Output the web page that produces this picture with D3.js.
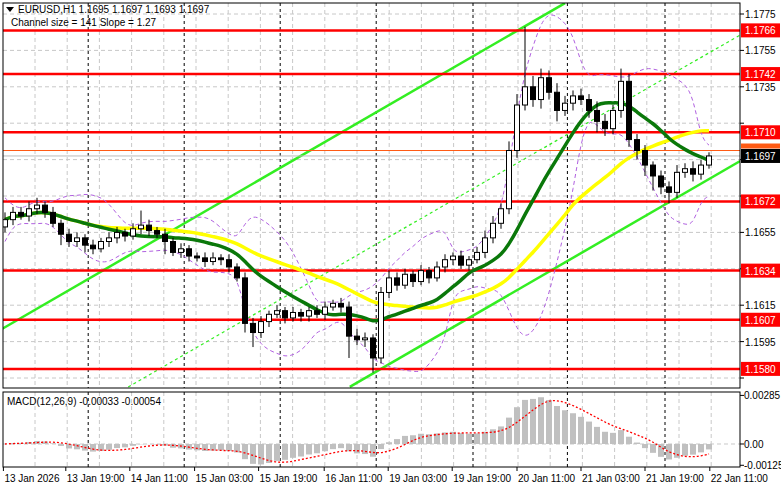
<!DOCTYPE html>
<html>
<head>
<meta charset="utf-8">
<title>EURUSD H1</title>
<script src="https://cdn.jsdelivr.net/npm/d3@7"></script>
<style>
  body { margin:0; background:#fff; }
  text { font-family: "Liberation Sans", Arial, sans-serif; font-size:10px; }
</style>
</head>
<body>
<svg id="chart" width="781" height="489"></svg>
<script>
// closes, one bar per 2 hours
var closes = [1.1662,1.1666,1.1664,1.1668,1.1670,1.1666,1.1660,1.1654,1.1650,1.1652,
  1.1648,1.1646,1.1650,1.1652,1.1655,1.1653,1.1657,1.1659,1.1656,1.1654,
  1.1650,1.1644,1.1646,1.1642,1.1641,1.1639,1.1641,1.1640,1.1636,1.1630,
  1.1605,1.1600,1.1606,1.1610,1.1612,1.1608,1.1611,1.1609,1.1612,1.1610,
  1.1614,1.1616,1.1614,1.1598,1.1596,1.1597,1.1586,1.1622,1.1630,1.1626,
  1.1632,1.1628,1.1634,1.1630,1.1636,1.1640,1.1642,1.1637,1.1640,1.1644,
  1.1652,1.1660,1.1668,1.1700,1.1725,1.1735,1.1728,1.1740,1.1732,1.1722,
  1.1726,1.1730,1.1728,1.1722,1.1716,1.1712,1.1722,1.1738,1.1706,1.1700,
  1.1692,1.1686,1.1680,1.1677,1.1688,1.1690,1.1687,1.1692,1.1697];
var firstOpen = 1.1658;
// wick extents in pips above max(o,c) and below min(o,c)
var upPips = [4,3,3,4,4,2,3,2,3,3, 2,3,2,3,3,2,3,8,3,2, 3,2,3,2,2,3,3,2,3,2,
  3,3,3,2,3,2,3,2,2,3, 3,2,3,3,4,3,2,3,4,3, 3,2,3,2,3,3,2,3,2,3,
  4,4,3,5,6,33,6,5,4,5, 4,3,4,3,5,4,3,7,4,3, 3,2,3,3,4,3,4,3,2];
var dnPips = [3,3,2,3,3,3,2,6,3,3, 4,3,2,3,3,3,2,3,3,2, 7,2,3,3,2,3,2,3,3,2,
  5,8,3,3,2,3,2,3,3,2, 3,2,3,12,3,4,8,3,3,3, 2,3,2,3,2,3,3,2,3,2,
  3,3,3,3,4,3,4,5,4,6, 3,4,3,4,6,4,3,4,4,5, 6,8,4,6,3,3,4,3,2];
var levels = [1.1766, 1.1742, 1.1710, 1.1672, 1.1634, 1.1607, 1.1580];
var priceTicks = [1.1775, 1.1755, 1.1735, 1.1715, 1.1695, 1.1675, 1.1655, 1.1635, 1.1615, 1.1595, 1.1575];
var dateLabels = ["13 Jan 2026","13 Jan 19:00","14 Jan 11:00","15 Jan 03:00","15 Jan 19:00","16 Jan 11:00",
  "19 Jan 03:00","19 Jan 19:00","20 Jan 11:00","21 Jan 03:00","21 Jan 19:00","22 Jan 11:00"];
var dateBars = [-0.2, 7.6, 15.6, 23.7, 31.7, 39.9, 47.9, 55.9, 64.0, 72.0, 80.0, 88.1];
var daySeps = [10.4, 22.4, 34.4, 46.4, 58.5, 70.3, 82.5];
// channel lines as [bar, price] endpoints
var chUpper = [[-0.6, 1.16014], [70.0, 1.17810]];
var chLower = [[43.1, 1.15701], [91.9, 1.16942]];
var chMid = [[15.4, 1.15701], [91.9, 1.17635]];
var lastPrice = 1.1697, orangeLevel = 1.1700;

var svg = d3.select("#chart");
var L = 3, R = 740, T = 3, B = 388, MT = 392, MB = 467;

var x = d3.scaleLinear().domain([0, 1]).range([5, 13]);
var y = d3.scaleLinear().domain([1.1575, 1.1775]).range([378, 14]);

var bars = closes.map(function(c, i) {
  var o = i == 0 ? firstOpen : closes[i-1];
  return {i:i, o:o, c:c, h:Math.max(o,c)+upPips[i]/10000, l:Math.min(o,c)-dnPips[i]/10000};
});

function sma(arr, n) {
  return arr.map(function(v, i) {
    return d3.mean(arr.slice(Math.max(0, i-n+1), i+1));
  });
}
function ema(arr, n) {
  var k = 2/(n+1), out = [], prev = arr[0];
  arr.forEach(function(v){ prev = v*k + prev*(1-k); out.push(prev); });
  return out;
}
var maFast = sma(closes, 12), maSlow = sma(closes, 25);
var bbMid = sma(closes, 10);
var bbDev = closes.map(function(v, i) {
  var s = closes.slice(Math.max(0, i-9), i+1);
  return s.length > 1 ? d3.deviation(s) : 0.0006;
});
var emaSlow = ema(closes, 13);
var macd = ema(closes, 6).map(function(v, i){ return v - emaSlow[i]; });
var signal = sma(macd, 5);

svg.append("rect").attr("x", 0).attr("y", 0).attr("width", 781).attr("height", 489).attr("fill", "#fff");

var clip = svg.append("clipPath").attr("id", "mainclip");
clip.append("rect").attr("x", L).attr("y", T).attr("width", R-L).attr("height", B-T);
var main = svg.append("g").attr("clip-path", "url(#mainclip)");

// grid
var gridX = d3.range(35, R, 32.2);
main.selectAll(".gx").data(gridX).join("line")
  .attr("x1", d => d).attr("x2", d => d).attr("y1", T).attr("y2", B)
  .attr("stroke", "#c8c8c8").attr("stroke-dasharray", "4,3");
main.selectAll(".gy").data(priceTicks).join("line")
  .attr("x1", L).attr("x2", R).attr("y1", d => y(d)).attr("y2", d => y(d))
  .attr("stroke", "#c8c8c8").attr("stroke-dasharray", "4,3");
main.selectAll(".ds").data(daySeps).join("line")
  .attr("x1", d => x(d)).attr("x2", d => x(d)).attr("y1", T).attr("y2", B)
  .attr("stroke", "#000").attr("stroke-dasharray", "3,3");

// channel
function chLine(pts, dash, w) {
  main.append("line")
    .attr("x1", x(pts[0][0])).attr("y1", y(pts[0][1]))
    .attr("x2", x(pts[1][0])).attr("y2", y(pts[1][1]))
    .attr("stroke", "#33ee22").attr("stroke-width", w).attr("stroke-dasharray", dash);
}
chLine(chUpper, null, 2.5);
chLine(chLower, null, 2.5);
chLine(chMid, "3,3", 1.2);

// levels
main.selectAll(".lv").data(levels).join("line")
  .attr("x1", L).attr("x2", R).attr("y1", d => y(d)).attr("y2", d => y(d))
  .attr("stroke", "#ff0000").attr("stroke-width", 2.5);
main.append("line").attr("x1", L).attr("x2", R).attr("y1", y(orangeLevel)).attr("y2", y(orangeLevel))
  .attr("stroke", "#ff5a14").attr("stroke-width", 1.2);
main.append("line").attr("x1", L).attr("x2", R).attr("y1", y(lastPrice)).attr("y2", y(lastPrice))
  .attr("stroke", "#bbb").attr("stroke-width", 1);

// bollinger
var bbUp = bbMid.map((m, i) => m + 2*bbDev[i]);
var bbDn = bbMid.map((m, i) => m - 2*bbDev[i]);
[bbUp, bbDn].forEach(function(arr) {
  main.append("path").datum(arr)
    .attr("d", d3.line().x((d, i) => x(i)).y(d => y(d)).curve(d3.curveBasis))
    .attr("fill", "none").attr("stroke", "#b060e0").attr("stroke-width", 1).attr("stroke-dasharray", "4,3");
});

// moving averages
main.append("path").datum(maSlow)
  .attr("d", d3.line().x((d, i) => x(i)).y(d => y(d)).curve(d3.curveBasis))
  .attr("fill", "none").attr("stroke", "#ffff00").attr("stroke-width", 3.5);
main.append("path").datum(maFast)
  .attr("d", d3.line().x((d, i) => x(i)).y(d => y(d)).curve(d3.curveBasis))
  .attr("fill", "none").attr("stroke", "#0a780a").attr("stroke-width", 3.5);

// candles
var cg = main.selectAll(".cd").data(bars).join("g");
cg.append("line").attr("x1", d => x(d.i)).attr("x2", d => x(d.i))
  .attr("y1", d => y(d.h)).attr("y2", d => y(d.l)).attr("stroke", "#000");
cg.append("rect").attr("x", d => x(d.i) - 2.5).attr("width", 5)
  .attr("y", d => y(Math.max(d.o, d.c)))
  .attr("height", d => Math.max(1, Math.abs(y(d.o) - y(d.c))))
  .attr("fill", d => d.c >= d.o ? "#fff" : "#000").attr("stroke", "#000");

svg.append("rect").attr("x", L).attr("y", T).attr("width", R-L).attr("height", B-T)
  .attr("fill", "none").attr("stroke", "#000");

// right price axis (ticks hidden behind level tags are skipped)
var tagged = levels.concat([orangeLevel, lastPrice]);
priceTicks.forEach(function(p) {
  svg.append("line").attr("x1", R).attr("x2", R+4).attr("y1", y(p)).attr("y2", y(p)).attr("stroke", "#000");
  var hidden = tagged.some(t => Math.abs(y(t) - y(p)) < 12);
  if (!hidden) svg.append("text").attr("x", 745).attr("y", y(p) + 4).text(p.toFixed(4));
});
function tag(p, bg, fg) {
  svg.append("rect").attr("x", 741).attr("y", y(p) - 7).attr("width", 39).attr("height", 14).attr("fill", bg);
  svg.append("text").attr("x", 745).attr("y", y(p) + 4).attr("fill", fg).text(p.toFixed(4));
}
levels.forEach(l => tag(l, "#ff0000", "#fff"));
svg.append("rect").attr("x", 741).attr("y", y(orangeLevel) - 7).attr("width", 39).attr("height", 5).attr("fill", "#ff5a14");
tag(lastPrice, "#000", "#fff");

// title
svg.append("path").attr("d", "M6,7 L14,7 L10,12 Z").attr("fill", "#000");
svg.append("text").attr("x", 18).attr("y", 13).text("EURUSD,H1  1.1695 1.1697 1.1693 1.1697");
svg.append("text").attr("x", 11).attr("y", 26).text("Channel size = 141 Slope = 1.27");

// MACD panel
var my = d3.scaleLinear().domain([-0.00135, 0.00305]).range([MB, MT]);
var mclip = svg.append("clipPath").attr("id", "mclip");
mclip.append("rect").attr("x", L).attr("y", MT).attr("width", R-L).attr("height", MB-MT);
var mg = svg.append("g").attr("clip-path", "url(#mclip)");
mg.selectAll(".mgx").data(gridX).join("line")
  .attr("x1", d => d).attr("x2", d => d).attr("y1", MT).attr("y2", MB)
  .attr("stroke", "#c8c8c8").attr("stroke-dasharray", "4,3");
mg.selectAll(".mds").data(daySeps).join("line")
  .attr("x1", d => x(d)).attr("x2", d => x(d)).attr("y1", MT).attr("y2", MB)
  .attr("stroke", "#000").attr("stroke-dasharray", "3,3");
mg.append("line").attr("x1", L).attr("x2", R).attr("y1", my(0)).attr("y2", my(0))
  .attr("stroke", "#c8c8c8").attr("stroke-dasharray", "4,3");
mg.selectAll(".hb").data(macd).join("rect")
  .attr("x", (d, i) => x(i) - 3).attr("width", 6)
  .attr("y", d => Math.min(my(d), my(0))).attr("height", d => Math.abs(my(d) - my(0)))
  .attr("fill", "#c0c0c0");
mg.append("path").datum(signal)
  .attr("d", d3.line().x((d, i) => x(i)).y(d => my(d)).curve(d3.curveBasis))
  .attr("fill", "none").attr("stroke", "#ff0000").attr("stroke-width", 1.3).attr("stroke-dasharray", "2,2");
svg.append("rect").attr("x", L).attr("y", MT).attr("width", R-L).attr("height", MB-MT)
  .attr("fill", "none").attr("stroke", "#000");
svg.append("text").attr("x", 7).attr("y", 405).attr("font-size", "9px").text("MACD(12,26,9) -0.00033 -0.00054");
[[0.00285, "0.00285"], [0, "0.00"], [-0.00125, "-0.00125"]].forEach(function(t) {
  svg.append("line").attr("x1", R).attr("x2", R+4).attr("y1", my(t[0])).attr("y2", my(t[0])).attr("stroke", "#000");
  svg.append("text").attr("x", 744).attr("y", my(t[0]) + 4).attr("font-size", "9.5px").text(t[1]);
});

// time axis
dateLabels.forEach(function(lbl, k) {
  var px = Math.max(3, x(dateBars[k]));
  svg.append("line").attr("x1", px).attr("x2", px).attr("y1", MB).attr("y2", MB+4).attr("stroke", "#000");
  svg.append("text").attr("x", px + 1).attr("y", 482).attr("font-size", "9.5px").text(lbl);
});
</script>
</body>
</html>
